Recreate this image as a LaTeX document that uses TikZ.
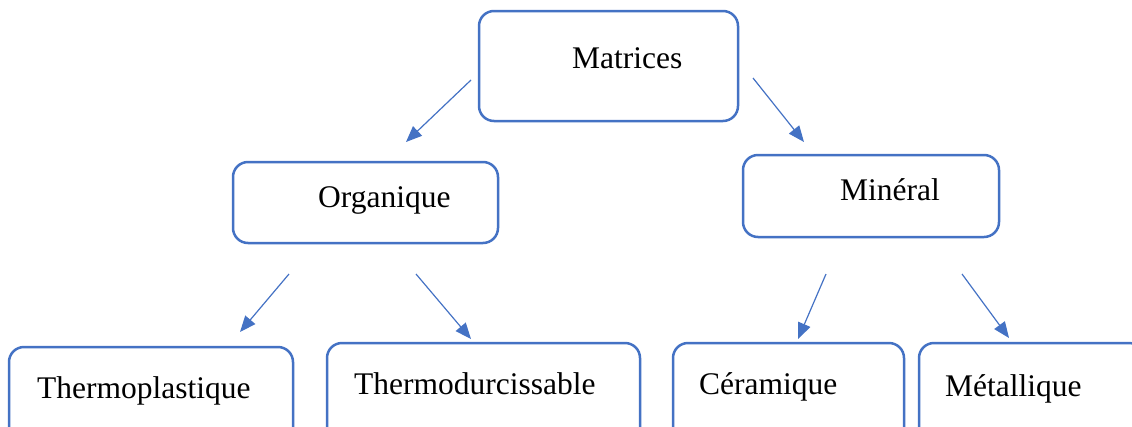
\documentclass[tikz,border=0pt]{standalone}
\usepackage{fontspec}
\setmainfont{Liberation Serif}
\usetikzlibrary{arrows.meta}
\definecolor{boxblue}{HTML}{4472C4}
\tikzset{
  box/.style={draw=boxblue, line width=2.5pt, rounded corners=15pt, inner sep=0pt},
  lbl/.style={anchor=base west, inner sep=0pt, font=\fontsize{31.5}{36}\selectfont},
  arr/.style={draw=boxblue, line width=1.2pt, -{Triangle[length=16pt,width=13pt]}}
}
\begin{document}
\begin{tikzpicture}[x=1pt,y=-1pt]
\useasboundingbox (0,0) rectangle (1132,426);
\clip (0,0) rectangle (1132,426);
% boxes
\node[box, minimum width=259pt, minimum height=110pt] (mat) at (608.5,66) {};
\node[box, minimum width=265pt, minimum height=81pt] (org) at (365.5,202.5) {};
\node[box, minimum width=256pt, minimum height=82pt] (min) at (871,196) {};
\node[box, minimum width=284pt, minimum height=100pt] (tp) at (151,397) {};
\node[box, minimum width=313pt, minimum height=100pt] (td) at (483.5,393) {};
\node[box, minimum width=231pt, minimum height=100pt] (cer) at (788.5,393) {};
\node[box, minimum width=225pt, minimum height=100pt] (met) at (1031.5,393) {};
% labels
\node[lbl] (tmat) at (572,68) {Matrices};
\node[lbl] (torg) at (318,207) {Organique};
\node[lbl] (tmin) at (840,200) {Minéral};
\node[lbl] (ttp) at (37,398) {Thermoplastique};
\node[lbl] (ttd) at (354,394) {Thermodurcissable};
\node[lbl] (tcer) at (699,394) {Céramique};
\node[lbl] (tmet) at (945,396) {Métallique};
% arrow endpoints
\coordinate (a1s) at (471,80);  \coordinate (a1e) at (406,142);
\coordinate (a2s) at (753,78);  \coordinate (a2e) at (804,142);
\coordinate (a3s) at (289,274); \coordinate (a3e) at (240,332);
\coordinate (a4s) at (416,274); \coordinate (a4e) at (471,339);
\coordinate (a5s) at (826,274); \coordinate (a5e) at (798,339);
\coordinate (a6s) at (962,274); \coordinate (a6e) at (1009,338);
\draw[arr] (a1s) -- (a1e);
\draw[arr] (a2s) -- (a2e);
\draw[arr] (a3s) -- (a3e);
\draw[arr] (a4s) -- (a4e);
\draw[arr] (a5s) -- (a5e);
\draw[arr] (a6s) -- (a6e);
\end{tikzpicture}
\end{document}
